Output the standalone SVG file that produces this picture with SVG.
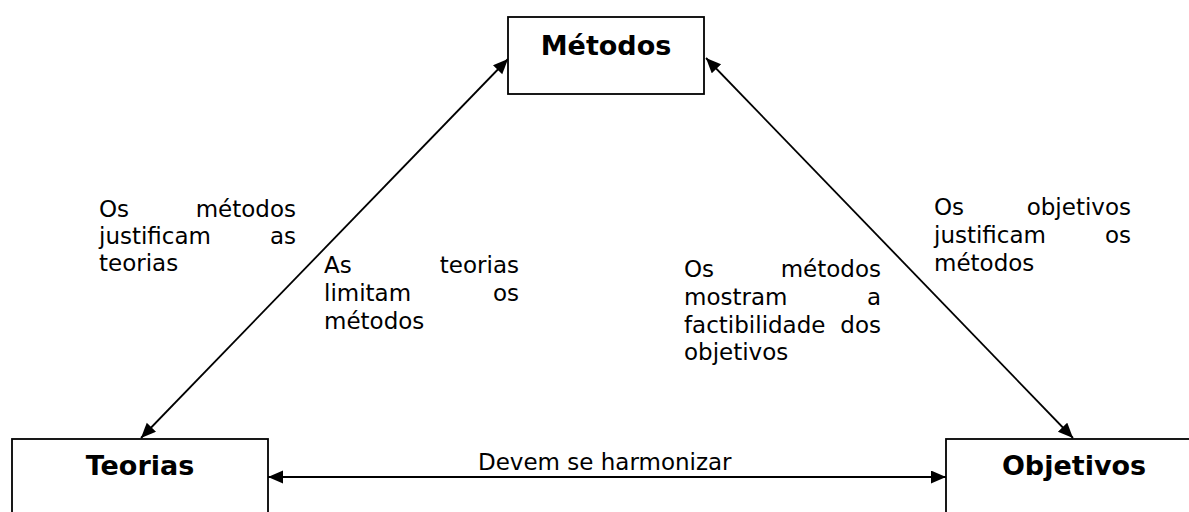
<svg xmlns="http://www.w3.org/2000/svg" width="1189" height="512" viewBox="0 0 1189 512">
<style>
.box{fill:#fff;stroke:#000;stroke-width:1.8}
.title{font-family:"DejaVu Sans",Verdana,sans-serif;font-weight:bold;font-size:27px;fill:#000;text-anchor:middle}
.lbl{font-family:"DejaVu Sans",Verdana,sans-serif;font-size:23px;fill:#000}
.e{text-anchor:end}
.conn{stroke:#000;stroke-width:1.8;fill:none;marker-start:url(#ah);marker-end:url(#ah)}
</style>
<defs>
<marker id="ah" markerUnits="userSpaceOnUse" markerWidth="16" markerHeight="14" refX="15" refY="6.5" orient="auto-start-reverse">
<path d="M0,0 L15,6.5 L0,13 z" fill="#000"/>
</marker>
</defs>
<rect width="1189" height="512" fill="#fff"/>
<g id="connectors">
<line class="conn" x1="508" y1="59" x2="141" y2="438"/>
<line class="conn" x1="706" y1="58" x2="1073" y2="438"/>
<line class="conn" x1="268" y1="477" x2="946" y2="477"/>
</g>
<g id="node-metodos">
<rect class="box" x="508" y="17" width="196" height="77"/>
<text class="title" x="606" y="55">Métodos</text>
</g>
<g id="node-teorias">
<rect class="box" x="12" y="439" width="256" height="90"/>
<text class="title" x="140" y="475">Teorias</text>
</g>
<g id="node-objetivos">
<rect class="box" x="946" y="439" width="256" height="90"/>
<text class="title" x="1074" y="475">Objetivos</text>
</g>
<g id="labels">
<text class="lbl" x="99" y="217">Os</text><text class="lbl e" x="296" y="217">métodos</text>
<text class="lbl" x="99" y="244">justificam</text><text class="lbl e" x="296" y="244">as</text>
<text class="lbl" x="99" y="271">teorias</text>

<text class="lbl" x="324" y="273">As</text><text class="lbl e" x="519" y="273">teorias</text>
<text class="lbl" x="324" y="301">limitam</text><text class="lbl e" x="519" y="301">os</text>
<text class="lbl" x="324" y="329">métodos</text>

<text class="lbl" x="684" y="277">Os</text><text class="lbl e" x="881" y="277">métodos</text>
<text class="lbl" x="684" y="305">mostram</text><text class="lbl e" x="881" y="305">a</text>
<text class="lbl" x="684" y="333">factibilidade</text><text class="lbl e" x="881" y="333">dos</text>
<text class="lbl" x="684" y="360">objetivos</text>

<text class="lbl" x="934" y="215">Os</text><text class="lbl e" x="1131" y="215">objetivos</text>
<text class="lbl" x="934" y="243">justificam</text><text class="lbl e" x="1131" y="243">os</text>
<text class="lbl" x="934" y="271">métodos</text>

<text class="lbl" x="478" y="470">Devem se harmonizar</text>
</g>
</svg>
